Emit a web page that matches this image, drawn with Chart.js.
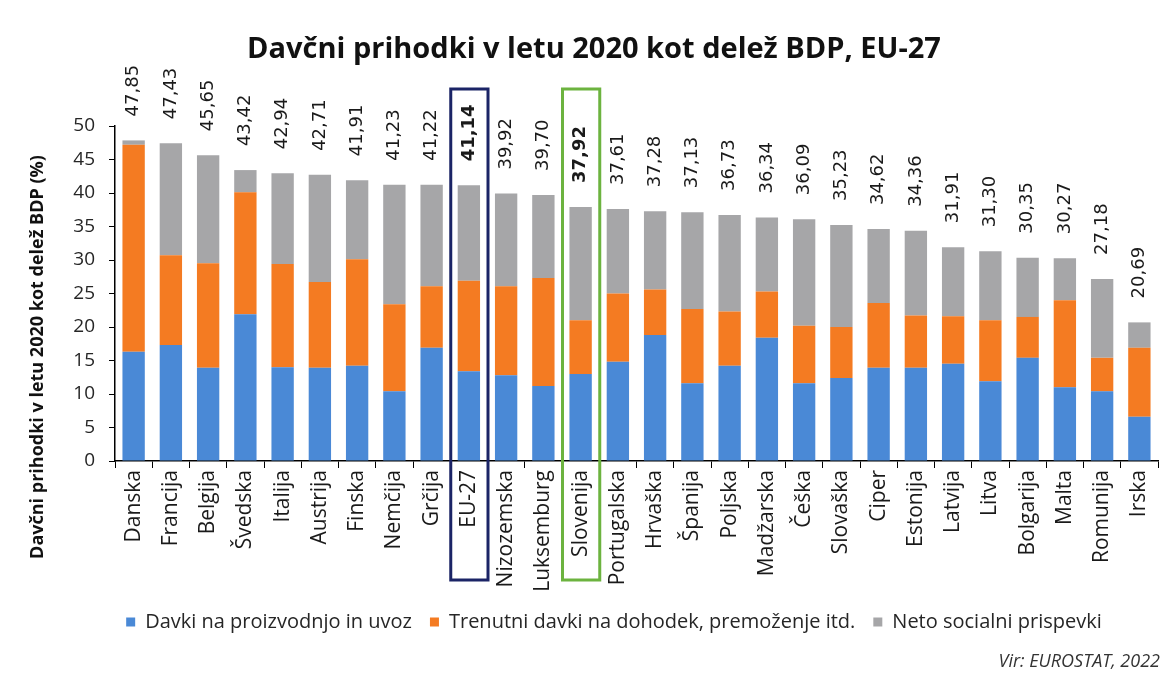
<!DOCTYPE html>
<html>
<head>
<meta charset="utf-8">
<script src="https://cdn.jsdelivr.net/npm/chart.js@4"></script>
<style>
  body { margin: 0; background: #fff; }
  canvas { display: block; }
</style>
</head>
<body>
<canvas id="graph" width="1174" height="675"></canvas>
<script>
const countries = ["Danska", "Francija", "Belgija", "Švedska", "Italija", "Austrija", "Finska", "Nemčija", "Grčija", "EU-27",
  "Nizozemska", "Luksemburg", "Slovenija", "Portugalska", "Hrvaška", "Španija", "Poljska", "Madžarska", "Češka", "Slovaška",
  "Ciper", "Estonija", "Latvija", "Litva", "Bolgarija", "Malta", "Romunija", "Irska"];

// Davki na proizvodnjo in uvoz
const productionTaxes = [16.3, 17.3, 13.9, 21.9, 14.0, 13.9, 14.2, 10.4, 16.9, 13.4,
  12.8, 11.2, 13.0, 14.8, 18.8, 11.6, 14.2, 18.4, 11.6, 12.4,
  13.9, 13.9, 14.5, 11.9, 15.4, 11.0, 10.4, 6.6];
// Trenutni davki na dohodek, premoženje itd.
const incomeTaxes = [30.9, 13.4, 15.6, 18.2, 15.4, 12.8, 15.9, 13.0, 9.2, 13.5,
  13.3, 16.1, 8.0, 10.2, 6.8, 11.1, 8.1, 6.9, 8.6, 7.6,
  9.7, 7.8, 7.1, 9.1, 6.1, 13.0, 5.0, 10.3];
// Neto socialni prispevki
const socialContrib = [0.65, 16.73, 16.15, 3.32, 13.54, 16.01, 11.81, 17.83, 15.12, 14.24,
  13.82, 12.4, 16.92, 12.61, 11.68, 14.43, 14.43, 11.04, 15.89, 15.23,
  11.02, 12.66, 10.31, 10.3, 8.85, 6.27, 11.78, 3.79];
const totalLabels = ["47,85", "47,43", "45,65", "43,42", "42,94", "42,71", "41,91", "41,23", "41,22", "41,14",
  "39,92", "39,70", "37,92", "37,61", "37,28", "37,13", "36,73", "36,34", "36,09", "35,23",
  "34,62", "34,36", "31,91", "31,30", "30,35", "30,27", "27,18", "20,69"];
const yTicks = [0, 5, 10, 15, 20, 25, 30, 35, 40, 45, 50];
const highlighted = ["EU-27", "Slovenija"];

Chart.defaults.font.family = "'Open Sans', sans-serif";
Chart.defaults.color = "#262626";

const ctx = document.getElementById("graph").getContext("2d");

// total labels above the bars, title, axis title, source, frames
const extras = {
  id: "extras",
  afterDatasetsDraw(chart) {
    const c = chart.ctx;
    const meta = chart.getDatasetMeta(2);
    c.save();
    c.fillStyle = "#1a1a1a";
    c.textAlign = "left";
    c.textBaseline = "middle";
    meta.data.forEach((bar, i) => {
      const bold = highlighted.includes(countries[i]);
      c.font = (bold ? "bold " : "") + "18px 'DejaVu Sans'";
      c.save();
      c.translate(bar.x, bar.y - 24);
      c.rotate(-Math.PI / 2);
      c.fillText(totalLabels[i], 0, 0);
      c.restore();
    });
    c.restore();
  },
  afterDraw(chart) {
    const c = chart.ctx;
    const xs = chart.scales.x;
    const w = xs.getPixelForValue(1) - xs.getPixelForValue(0);
    c.save();
    // title
    c.fillStyle = "#111";
    c.font = "bold 29px 'Open Sans'";
    c.textAlign = "center";
    c.textBaseline = "middle";
    c.fillText("Davčni prihodki v letu 2020 kot delež BDP, EU-27", 594, 50);
    // y axis title
    c.save();
    c.translate(38, 357);
    c.rotate(-Math.PI / 2);
    c.font = "bold 18px 'Open Sans'";
    c.fillText("Davčni prihodki v letu 2020 kot delež BDP (%)", 0, 0);
    c.restore();
    // source
    c.font = "italic 18px 'Open Sans'";
    c.textAlign = "right";
    c.fillStyle = "#333";
    c.fillText("Vir: EUROSTAT, 2022", 1160, 662);
    // frames round EU-27 and Slovenija
    const frameColors = ["#1b2466", "#6cb33f"];
    highlighted.forEach((name, k) => {
      const cx = xs.getPixelForValue(countries.indexOf(name));
      c.strokeStyle = frameColors[k];
      c.lineWidth = 3;
      c.strokeRect(cx - w / 2 + 0.5, 89, w, 491);
    });
    c.restore();
  }
};

new Chart(ctx, {
  type: "bar",
  data: {
    labels: countries,
    datasets: [
      { label: "Davki na proizvodnjo in uvoz", data: productionTaxes, backgroundColor: "#4a89d6" },
      { label: "Trenutni davki na dohodek, premoženje itd.", data: incomeTaxes, backgroundColor: "#f47b22" },
      { label: "Neto socialni prispevki", data: socialContrib, backgroundColor: "#a6a6a8" },
    ],
  },
  options: {
    responsive: false,
    animation: false,
    barPercentage: 0.6,
    categoryPercentage: 1,
    layout: { padding: { left: 70, right: 16, top: 126, bottom: 33 } },
    plugins: {
      title: { display: false },
      tooltip: { enabled: false },
      legend: {
        position: "bottom",
        labels: {
          boxWidth: 9,
          boxHeight: 9,
          padding: 18,
          font: { size: 20 },
          color: "#262626",
        },
      },
    },
    scales: {
      x: {
        stacked: true,
        afterFit: (scale) => { scale.height = 133; },
        border: { color: "#000", width: 1.5 },
        grid: { offset: true, drawOnChartArea: false, drawTicks: true, tickLength: 7, color: "#000" },
        ticks: { minRotation: 90, maxRotation: 90, autoSkip: false, padding: 2, font: { size: 21 }, color: "#1a1a1a" },
      },
      y: {
        stacked: true,
        min: 0,
        max: 50,
        afterFit: (scale) => { scale.width = 45; },
        afterBuildTicks: (scale) => { scale.ticks = yTicks.map((v) => ({ value: v })); },
        border: { color: "#000", width: 1.5 },
        grid: { drawOnChartArea: false, drawTicks: true, tickLength: 6, color: "#000" },
        ticks: { padding: 14, font: { size: 19 }, color: "#262626" },
      },
    },
  },
  plugins: [extras],
});
</script>
</body>
</html>
